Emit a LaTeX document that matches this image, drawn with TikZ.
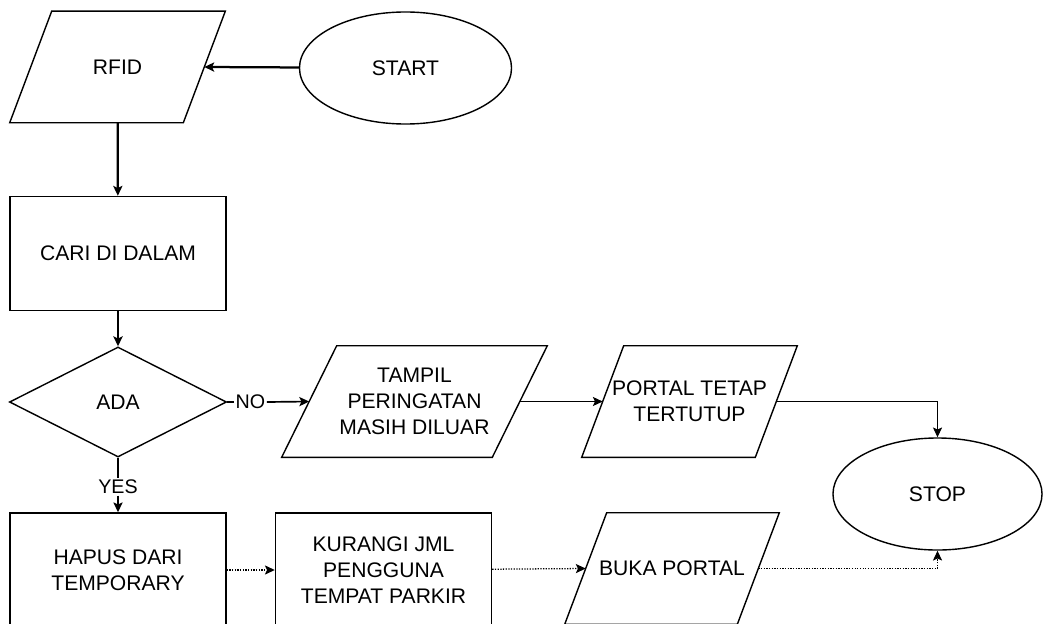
\documentclass[tikz,border=0pt]{standalone}
\usepackage{fontspec}
\setmainfont{Liberation Sans}
\usetikzlibrary{shapes.geometric,arrows.meta,calc}
\begin{document}
\begin{tikzpicture}[x=0.025cm,y=-0.025cm,
  font=\fontsize{15}{18.5}\selectfont,
  >={Stealth[length=7pt,width=6.5pt,inset=1.5pt]},
  outline/.style={draw, line width=1pt, line join=miter},
  shp/.style={outline, align=center, inner sep=1pt},
  iobox/.style={rectangle, align=center, inner sep=1pt, minimum height=2.775cm},
  proc/.style={shp, rectangle, minimum width=5.4cm, minimum height=2.85cm},
  term/.style={shp, ellipse, minimum width=5.3cm, minimum height=2.8cm},
  dec/.style={shp, diamond, minimum width=5.425cm, minimum height=2.75cm},
  lbl/.style={inner sep=1pt, font=\fontsize{14}{16}\selectfont},
  thickarr/.style={->, line width=1.6pt},
  medarr/.style={->, line width=1.2pt},
  thinarr/.style={->, line width=0.8pt},
  dotarr/.style={->, line width=0.9pt, densely dotted}]
\useasboundingbox (0,0) rectangle (1062,623);
\clip (0,0) rectangle (1062,623);

% input/output boxes (parallelograms drawn from the node corners)
\node[iobox, minimum width=5.375cm] (rfid)   at (117.5,67)    {RFID};
\node[iobox, minimum width=6.625cm] (tampil) at (414.5,401.5) {TAMPIL\\PERINGATAN\\MASIH DILUAR};
\node[iobox, minimum width=5.375cm] (portal) at (689.5,401.5) {PORTAL TETAP\\TERTUTUP};
\node[iobox, minimum width=5.35cm]  (buka)   at (672,568.5)   {BUKA PORTAL};

\draw[outline] ($(rfid.north west)+(42,0)$) -- (rfid.north east) -- ($(rfid.south east)+(-42,0)$) -- (rfid.south west) -- cycle;
\draw[outline] ($(tampil.north west)+(55,0)$) -- (tampil.north east) -- ($(tampil.south east)+(-55,0)$) -- (tampil.south west) -- cycle;
\draw[outline] ($(portal.north west)+(42,0)$) -- (portal.north east) -- ($(portal.south east)+(-42,0)$) -- (portal.south west) -- cycle;
\draw[outline] ($(buka.north west)+(42,0)$) -- (buka.north east) -- ($(buka.south east)+(-42,0)$) -- (buka.south west) -- cycle;

\coordinate (rfid-e)   at ($(rfid.east)+(-21,0)$);
\coordinate (tampil-w) at ($(tampil.west)+(27.5,0)$);
\coordinate (tampil-e) at ($(tampil.east)+(-27.5,0)$);
\coordinate (portal-w) at ($(portal.west)+(21,0)$);
\coordinate (portal-e) at ($(portal.east)+(-21,0)$);
\coordinate (buka-w)   at ($(buka.west)+(21,0)$);
\coordinate (buka-e)   at ($(buka.east)+(-21,0)$);

\node[term] (start)   at (405.5,68)  {START};
\node[proc] (cari)    at (118,253.5) {CARI DI DALAM};
\node[dec]  (ada)     at (118,402)   {ADA};
\node[term, minimum width=5.225cm] (stop) at (937.5,494) {STOP};
\node[proc] (hapus)   at (118,570)   {HAPUS DARI\\TEMPORARY};
\node[proc] (kurangi) at (383.5,570) {KURANGI JML\\PENGGUNA\\TEMPAT PARKIR};

\node[lbl, anchor=west] (no)  at (234,402) {NO};
\node[lbl] (yes) at (118,487) {YES};

\draw[thickarr] (start) -- (rfid-e);
\draw[thickarr] (rfid) -- (cari);
\draw[thickarr] (cari) -- (ada);
\draw[line width=1.2pt] (ada.east) -- (no.west);
\draw[medarr] (no.east) -- (tampil-w);
\draw[line width=1.2pt] (ada.south) -- (yes.north);
\draw[medarr] (yes.south) -- (hapus.north);
\draw[thinarr] (tampil-e) -- (portal-w);
\draw[thinarr] (portal-e) -| (stop.north);
\draw[dotarr] (hapus) -- (kurangi);
\draw[dotarr] (kurangi) -- (buka-w);
\draw[dotarr] (buka-e) -| (stop.south);
\end{tikzpicture}
\end{document}
